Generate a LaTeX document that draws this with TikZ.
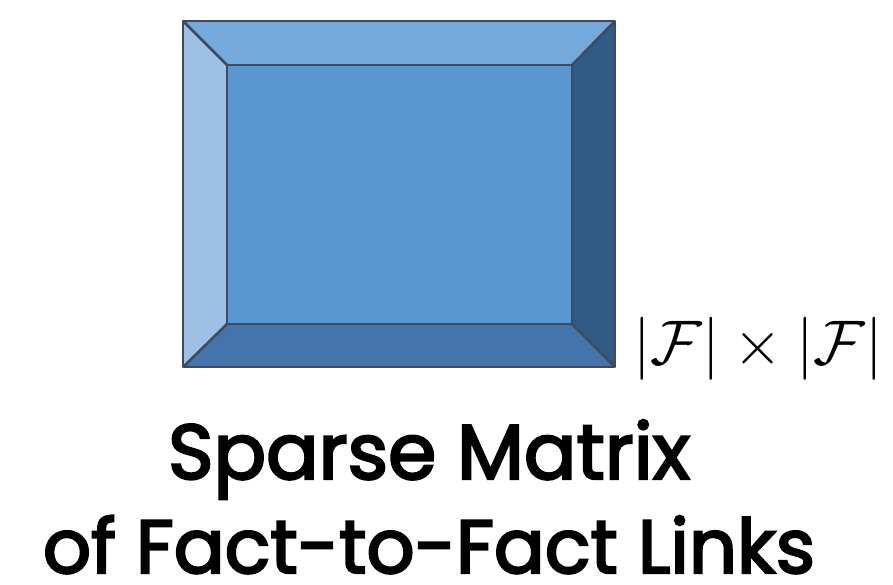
\documentclass[tikz,border=0pt]{standalone}
\usepackage{fontspec}
\newfontfamily\capfont{Poppins}[FakeBold=3]
\definecolor{topc}{HTML}{74A9DC}
\definecolor{leftc}{HTML}{9EBFE6}
\definecolor{midc}{HTML}{5A96CF}
\definecolor{rightc}{HTML}{2F5B85}
\definecolor{botc}{HTML}{4574AA}
\definecolor{edgec}{HTML}{3E4A5E}
\begin{document}
\begin{tikzpicture}[x=1pt,y=-1pt,
  facet/.style={draw=edgec,line width=2.5pt,line join=round},
  caption/.style={anchor=base,inner sep=0pt}]
\useasboundingbox (0,0) rectangle (893,585);
\coordinate (A) at (183,21);
\coordinate (B) at (615,21);
\coordinate (C) at (615,367);
\coordinate (D) at (183,367);
\coordinate (a) at (227,65);
\coordinate (b) at (572,65);
\coordinate (c) at (572,324);
\coordinate (d) at (227,324);
\fill[topc] (A) -- (B) -- (b) -- (a) -- cycle;
\fill[rightc] (B) -- (C) -- (c) -- (b) -- cycle;
\fill[botc] (C) -- (D) -- (d) -- (c) -- cycle;
\fill[leftc] (D) -- (A) -- (a) -- (d) -- cycle;
\fill[midc] (a) rectangle (c);
\draw[facet] (a) rectangle (c);
\draw[facet] (A) -- (a) (B) -- (b) (C) -- (c) (D) -- (d);
\draw[facet] (A) rectangle (C);
\node[anchor=west,inner sep=0pt] (dim) at (633,349) {\resizebox{250pt}{!}{$|\mathcal{F}|\times|\mathcal{F}|$}};
\node[caption] (t1) at (429,479) {\resizebox{522pt}{!}{\capfont\fontsize{72}{72}\selectfont Sparse Matrix}};
\node[caption] (t2) at (429,573) {\raisebox{0pt}[\height][0pt]{\resizebox{772pt}{!}{\capfont\fontsize{78}{78}\selectfont of Fact-to-Fact Links}}};
\end{tikzpicture}
\end{document}
